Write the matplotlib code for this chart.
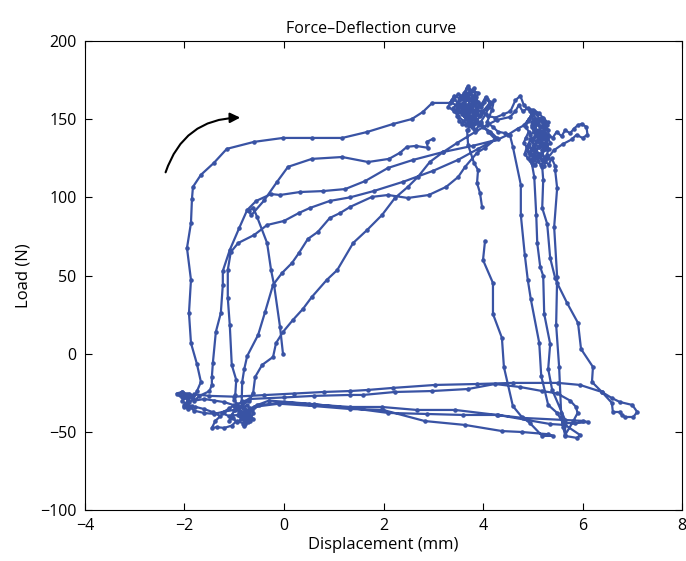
import matplotlib
matplotlib.use('Agg')
import matplotlib.pyplot as plt

plt.rcParams['font.family'] = ['Open Sans', 'DejaVu Sans']

# ---- data (Displacement mm, Load N), traced in drawing order ----
r1 = [(4.04,72.0),(4.00,59.9),(4.20,45.2),(4.20,25.4),(4.38,10.1),(4.42,-8.5),(4.60,-33.5),
      (4.78,-40.5),(4.94,-44.3),(5.19,-52.6),(5.41,-52.6)]
b1 = [(5.30,-51.5),(4.78,-50.1),(4.38,-49.5),(3.64,-45.6),(2.83,-43.1),(1.99,-36.0),(1.33,-35.4),
      (0.60,-33.5),(-0.10,-32.0),(-0.60,-34.0)]
bl_a = [(-0.72,-37),(-0.85,-41),(-0.78,-45),(-0.95,-43),(-1.05,-46),(-1.2,-47.5),(-1.35,-47),
        (-1.45,-47.5),(-1.38,-43),(-1.28,-40),(-1.42,-37.5),(-1.6,-35.5),(-1.78,-34),(-1.92,-35),
        (-2.02,-34),(-1.9,-31),(-1.98,-27.5),(-2.1,-26.5),(-2.16,-25.5),(-2.05,-24.5),(-1.88,-26.5),
        (-1.95,-26),(-2.05,-27.5),(-2.12,-26.0),(-2.05,-24.8),(-1.98,-26.5),(-1.90,-25.5),
        (-1.85,-27.5),(-1.92,-29),(-2.0,-33),(-1.92,-35.5),(-1.85,-33.5),(-1.95,-32.5),
        (-1.82,-29),(-1.75,-24)]
outer_up = [(-1.67,-18.1),(-1.75,-6.6),(-1.87,6.8),(-1.91,26.0),(-1.87,47.2),(-1.95,67.6),
            (-1.87,83.6),(-1.85,99.0),(-1.83,106.7),(-1.67,114.4),(-1.41,122.0),(-1.15,131.0),
            (-0.60,135.5),(-0.02,138.0),(0.56,138.0),(1.17,138.0),(1.67,141.8),(2.19,146.9),
            (2.57,150.1),(2.79,154.6),(2.98,160.4),(3.34,160.4)]
tl_1 = [(3.42,163),(3.5,160),(3.55,165),(3.62,162),(3.58,156),(3.68,152),(3.75,157),(3.7,163),
        (3.76,168),(3.82,170),(3.85,164),(3.92,160),(3.88,154),(3.8,150),(3.7,146),(3.82,144),
        (3.55,160),(3.60,157),(3.66,159),(3.62,163),(3.68,165),(3.73,162),(3.70,158),(3.76,155),
        (3.72,152),(3.65,150),(3.60,153),(3.54,155),(3.48,152),(3.52,149),(3.58,147),(3.66,146),
        (3.72,148),(3.80,147),(3.86,150),(3.82,154),(3.88,157),(3.84,161),(3.78,164),(3.74,168),
        (3.68,170),(3.64,166),(3.58,164),(3.52,162),(3.46,159),(3.40,157),(3.46,155),(3.55,158),
        (3.62,155),(3.68,153),(3.75,151),(3.80,153),(3.78,158),(3.72,160),(3.66,157),(3.60,160),
        (3.64,162),(3.70,164),(3.77,162),(3.83,159),(3.90,161),(3.96,158),(4.02,161),(4.08,163),
        (4.14,160),(4.08,157),(4.00,155),(3.94,152),(3.88,149),(3.92,146),(3.85,143),(3.78,145),
        (3.95,148),(4.05,153),(4.12,158),(4.22,162),(4.18,156),(4.08,148),(4.2,145),(4.3,142),
        (4.45,141),(4.54,139.9)]
line_a = [(4.60,132.3),(4.76,108.0),(4.76,88.7),(4.84,63.1),(4.90,47.2),(4.96,35.0),(5.13,6.9),
          (5.17,-14.2),(5.31,-32.8),(5.49,-37.9),(5.61,-44.3)]
b2 = [(5.85,-44.5),(6.11,-43.7),(6.01,-43.0),(4.80,-41.1),(4.28,-39.2),(3.44,-36.0),(2.67,-36.0),
      (1.97,-34.1),(1.33,-34.1),(0.60,-32.5),(0.00,-31.0),(-0.50,-33.0)]
bl_b = [(-0.65,-36),(-0.75,-40),(-0.62,-42),(-0.8,-39),(-0.9,-36),(-1.0,-33),(-1.2,-31),(-1.4,-30),
        (-1.6,-29),(-1.8,-30),(-1.7,-27),(-1.5,-24),(-1.45,-20)]
loop2 = [(-1.45,-14.9),(-1.43,-6.0),(-1.37,13.9),(-1.27,26.0),(-1.23,44.0),(-1.23,52.9),
         (-1.09,66.3),(-0.90,80.4),(-0.74,91.9),(-0.56,97.7),(-0.26,102.1),(-0.08,101.5),
         (0.32,103.4),(0.78,104.0),(1.23,105.3),(1.63,110.4),(2.09,118.8),(2.60,124.0),
         (3.20,129.0),(3.80,133.0),(4.30,137.0),(4.50,140.0)]
rc_1 = [(4.7,144),(4.82,146),(4.92,150),(5.0,153),(5.08,150),(4.98,146),(5.05,142),(5.15,140),
        (5.08,136),(4.95,137),(4.9,133),(5.0,130),(5.12,132),(5.2,135),(5.28,131),(5.15,127),
        (5.05,126),(4.95,124),(5.0,121)]
line_b = [(4.98,122.0),(5.03,113.0),(5.07,88.7),(5.09,70.8),(5.15,55.5),(5.21,49.7),(5.23,25.4),
          (5.35,6.2),(5.31,-9.8),(5.39,-23.2),(5.65,-42.4),(5.65,-52.6),(5.89,-53.9),(5.95,-52.0)]
b3 = [(5.65,-45.6),(5.35,-45.0),(4.30,-39.2),(3.60,-39.2),(2.87,-38.6),(2.09,-37.9),(1.33,-34.7),
      (0.50,-32.0),(-0.30,-30.0)]
bl_c = [(-0.55,-33),(-0.7,-36),(-0.9,-39),(-1.1,-40),(-1.25,-38),(-1.1,-35),(-0.95,-32),(-1.0,-29.5)]
loop3 = [(-0.98,-26.4),(-0.96,-16.8),(-1.05,-7.2),(-1.09,18.4),(-1.13,35.6),(-1.13,53.5),
         (-1.07,65.0),(-0.92,70.8),(-0.60,75.9),(-0.34,82.3),(0.00,84.9),(0.30,90.0),(0.52,93.2),
         (0.92,97.7),(1.33,100.0),(1.80,104.0),(2.40,110.0),(3.00,117.0),(3.50,124.0),
         (3.90,131.0),(4.25,137.0)]
tl_2 = [(4.1,142),(3.95,147),(3.8,152),(3.7,149),(3.58,153),(3.48,157),(3.6,160),(3.72,163),
        (3.85,161),(3.9,167),(3.78,168),(3.7,171),(3.62,167),(3.55,163),(3.42,165),(3.35,161),
        (3.5,158),(3.65,155),(3.8,156),(3.95,155),(4.1,152),(4.25,151),(4.4,153),(4.55,155),
        (4.65,162),(4.75,165),(4.82,159),(4.95,155)]
rc_2 = [(5.00,150),(5.05,147),(4.98,145),(5.03,142),(4.95,140),(5.00,137),(5.08,139),(5.12,143),
        (5.18,141),(5.14,137),(5.20,134),(5.12,132),(5.05,134),(4.98,131),(4.92,134),(4.88,130),
        (4.94,127),(5.02,128),(5.08,125),(5.15,128),(5.22,126),(5.18,130),(5.25,133),(5.28,137),
        (5.22,140),(5.26,144),(5.20,147),(5.14,150),(5.08,153),(5.02,155),(4.96,152),(4.90,149),
        (4.86,145),(4.92,142),(4.86,138),(4.82,135),(4.88,132),(4.84,128),(4.90,125),(4.96,123),
        (5.04,121),(5.10,123),(5.16,121),(5.24,123),(5.28,127),(5.32,131),(5.27,135),(5.33,139),
        (5.30,143),(5.25,147),(5.18,151),(5.10,149),(5.04,146),(5.10,142),(5.04,139),(4.98,136),
        (5.05,131),(5.12,128),(5.18,124),(5.10,126),(5.02,124),(4.95,129),(5.02,133),(5.09,136),
        (5.15,134),(5.20,138),(5.14,145),(5.06,148),(4.98,148),
        (5.1,148),(5.2,150),(5.28,146),(5.18,142),(5.22,137),(5.3,140),(5.4,138),(5.48,142),
        (5.58,139),(5.65,143),(5.75,141),(5.83,144),(5.9,146),(5.98,147),(6.08,145),(6.1,140),
        (6.0,138),(5.88,140),(5.78,137),(5.6,134),(5.42,130),(5.3,125),(5.22,120)]
line_c = [(5.19,119.5),(5.21,111.2),(5.19,93.2),(5.29,83.0),(5.35,61.2),(5.45,48.4),(5.49,45.2),
          (5.69,32.4),(5.91,19.6),(5.97,3.0),(6.21,-8.5),(6.19,-18.1),(6.39,-24.5),(6.59,-31.5),
          (6.61,-37.3),(6.75,-37.3),(6.79,-39.2),(6.85,-40.5),(7.02,-40.5),(7.10,-37.3),
          (7.00,-32.8),(6.75,-30.9),(6.59,-28.4),(6.39,-24.5)]
b_top = [(5.95,-20.0),(5.51,-18.7),(4.60,-18.7),(3.88,-19.4),(3.04,-20.0),(2.19,-21.9),
         (1.69,-23.2),(1.33,-23.9),(0.80,-24.5),(0.20,-25.5),(-0.40,-26.5),(-1.00,-27.5),
         (-1.50,-27.0),(-1.80,-26.0)]
bl_d = [(-1.95,-28),(-2.05,-30),(-1.95,-33),(-1.8,-36.5),(-1.6,-38),(-1.4,-38.5),(-1.2,-37),
        (-1.0,-36),(-0.85,-33),(-0.7,-30),(-0.62,-25)]
diag_f = [(-0.58,-14.9),(-0.44,-7.2),(-0.22,-2.1),(-0.16,6.8),(-0.02,13.9),(0.18,21.6),(0.38,28.6),
          (0.56,36.3),(0.86,47.2),(1.07,53.5),(1.39,70.8),(1.67,79.1),(1.97,88.7),(2.23,99.6),
          (2.49,106.7),(2.69,113.0),(2.93,122.6),(3.20,129.0),(3.48,134.8),(3.84,141.8),
          (4.08,146.3),(4.28,149.5),(4.54,151.4)]
rc_3 = [(4.65,155),(4.72,159),(4.8,155),(4.9,157),(5.0,156),(5.12,154),(5.2,151),(5.3,148),
        (5.2,145),(5.1,147),(5.02,143),(5.12,140),(5.25,141),(5.35,135),(5.25,131),(5.15,133),
        (5.05,129),(5.2,124),(5.32,121),(5.38,125),(5.45,120)]
line_d = [(5.45,117.4),(5.49,105.9),(5.43,81.0),(5.49,49.0),(5.47,18.4),(5.53,-8.5),(5.57,-37.9),
          (5.61,-46.9),(5.65,-52.0)]
b_top2 = [(5.80,-44.0),(5.90,-38.0),(5.87,-34.1),(5.75,-30.0),(5.49,-25.4),(5.19,-23.9),
          (4.74,-21.3),(4.24,-19.4),(3.70,-22.6),(2.97,-23.9),(2.23,-24.5),(1.59,-26.4),
          (1.33,-26.4),(0.60,-27.0),(0.00,-28.0),(-0.70,-29.0)]
bl_e = [(-0.85,-31),(-1.0,-33.5),(-0.9,-37),(-0.75,-40),(-0.68,-43),(-0.82,-45),(-0.7,-39),
        (-0.70,-38),(-0.78,-40),(-0.85,-37),(-0.92,-39),(-0.86,-42),(-0.95,-44),(-1.02,-41),
        (-1.10,-43),(-1.05,-39),(-0.98,-36),(-0.90,-34),(-0.82,-35),(-0.75,-33),(-0.68,-35),
        (-0.62,-38),(-0.66,-41),(-0.74,-43),(-0.80,-46),(-0.72,-44),(-0.78,-41),(-0.88,-39),
        (-0.80,-37),(-0.72,-36),
        (-0.8,-35),(-0.85,-30),(-0.84,-18.0),(-0.80,-10.0)]
diag_2 = [(-0.74,-1.5),(-0.52,12.0),(-0.38,26.7),(-0.22,44.0),(-0.04,51.6),(0.16,58.0),(0.30,64.4),
          (0.48,73.4),(0.68,77.9),(0.92,86.8),(1.13,90.0),(1.33,93.9),(1.77,100.3),(2.09,101.5),
          (2.49,99.6),(2.91,101.5),(3.26,106.7),(3.50,113.0),(3.64,119.5),(3.88,128.5),
          (4.04,131.7),(4.28,138.0)]
tl_3 = [(4.15,142),(4.0,145),(3.85,148),(3.72,146),(3.6,149),(3.5,152),(3.42,155),(3.3,158),
        (3.38,162),(3.5,166),(3.62,164),(3.7,167),(3.82,165),(3.78,160),(3.88,157),(3.98,160),
        (4.05,164),(4.15,161),(3.95,153),(3.82,151),(3.75,148),(3.7,143)]
line_g = [(3.68,143.1),(3.70,133.5),(3.82,122.0),(3.90,117.5),(3.88,109.2),(3.94,102.7),(3.98,93.9)]

zero_path = [(-0.02,-0.2),(-0.08,17.1),(-0.20,44.0),(-0.26,53.5),(-0.34,70.8),(-0.54,87.4),
             (-0.62,93.5),(-0.70,91.5),(-0.66,88.5),(-0.40,98.0),(-0.14,109.9),(0.08,119.5),
             (0.56,124.6),(1.17,125.8),(1.69,122.6),(2.11,124.6),(2.33,128.5),(2.47,132.3),
             (2.65,132.9),(2.89,131.7),(2.87,135.5),(2.99,137.4)]

main_path = (r1 + b1 + bl_a + outer_up + tl_1 + line_a + b2 + bl_b + loop2 + rc_1 + line_b + b3
             + bl_c + loop3 + tl_2 + rc_2 + line_c + b_top + bl_d + diag_f + rc_3 + line_d
             + b_top2 + bl_e + diag_2 + tl_3 + line_g)

x_ticks = [-4, -2, 0, 2, 4, 6, 8]
y_ticks = [-100, -50, 0, 50, 100, 150, 200]

color = '#3953A4'

fig = plt.figure(figsize=(6.86, 5.61), dpi=100)
ax = fig.add_axes([0.1239, 0.0909, 0.8703, 0.836])

for path in (main_path, zero_path):
    xs = [p[0] for p in path]
    ys = [p[1] for p in path]
    ax.plot(xs, ys, '-', color=color, lw=1.6, marker='.', markersize=4.5)

ax.annotate('', xy=(-0.88, 151), xytext=(-2.38, 116),
            arrowprops=dict(arrowstyle='-|>', connectionstyle='arc3,rad=-0.35',
                            color='black', lw=1.5, mutation_scale=15, shrinkA=0, shrinkB=0))

ax.set_xlim(-4, 8)
ax.set_ylim(-100, 200)
ax.set_xticks(x_ticks)
ax.set_yticks(y_ticks)
ax.tick_params(direction='in', top=True, right=True, length=5, width=0.8, labelsize=11.5, pad=6)
for s in ax.spines.values():
    s.set_linewidth(0.8)
ax.set_xlabel('Displacement (mm)', fontsize=12, labelpad=2)
ax.set_ylabel('Load (N)', fontsize=12, labelpad=6)
ax.set_title('Force\u2013Deflection curve', fontsize=11.5, pad=6, x=0.48)

fig.savefig('out.png', dpi=100)
